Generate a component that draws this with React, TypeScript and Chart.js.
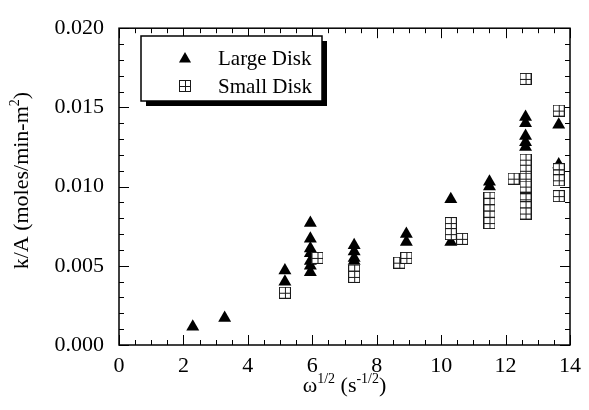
import { useEffect, useRef } from "react";
import { Chart, registerables } from "chart.js";

Chart.register(...registerables);

// Rotation-rate data: x = ω^1/2 (s^-1/2), y = k/A (moles/min-m²)
const seriesNames = ["Large Disk", "Small Disk"];

const largeX = [
  2.29, 3.28,
  5.15, 5.15,
  5.94, 5.94, 5.94, 5.94, 5.94, 5.94, 5.94,
  7.3, 7.3, 7.3, 7.3,
  8.92, 8.92,
  10.3, 10.3,
  11.5, 11.5,
  12.62, 12.62, 12.62, 12.62, 12.62,
  13.65, 13.65,
];
const largeY = [
  0.00115, 0.0017,
  0.0047, 0.004,
  0.0077, 0.0067, 0.0061, 0.0058, 0.0053, 0.005, 0.0046,
  0.0063, 0.0059, 0.0055, 0.0053,
  0.007, 0.0065,
  0.0092, 0.0065,
  0.0103, 0.01,
  0.0144, 0.014, 0.0132, 0.0128, 0.0125,
  0.0139, 0.0114,
];

const smallX = [
  5.15,
  6.16,
  7.3, 7.3,
  8.7, 8.92,
  10.3, 10.3, 10.65,
  11.5, 11.5, 11.5, 11.5, 11.5,
  12.25,
  12.62, 12.62, 12.62, 12.62, 12.62, 12.62, 12.62, 12.62,
  13.65, 13.65, 13.65, 13.65, 13.65,
];
const smallY = [
  0.0033,
  0.0055,
  0.0047, 0.0043,
  0.0052, 0.0055,
  0.0077, 0.007, 0.0067,
  0.0093, 0.0089, 0.0085, 0.0081, 0.0077,
  0.0105,
  0.0168, 0.0117, 0.011, 0.0105, 0.01, 0.0092, 0.0087, 0.0083,
  0.0148, 0.0111, 0.0107, 0.0104, 0.0094,
];

const xTicks = [0, 2, 4, 6, 8, 10, 12, 14];
const yTicks = [0, 0.005, 0.01, 0.015, 0.02];
const xMinorStep = 0.5;
const yMinorStep = 0.001;

const FONT_FAMILY = '"Liberation Serif", "Times New Roman", serif';
const FONT_SIZE = 22;
const LEGEND_FONT_SIZE = 21;

// Square with a cross inside, used as the Small Disk marker
function makeBoxMarker(size: number): HTMLCanvasElement {
  const c = document.createElement("canvas");
  c.width = size;
  c.height = size;
  const g = c.getContext("2d")!;
  g.fillStyle = "#fff";
  g.fillRect(0, 0, size, size);
  g.strokeStyle = "#1a1a1a";
  g.lineWidth = 1;
  g.strokeRect(0.5, 0.5, size - 1, size - 1);
  const m = Math.floor(size / 2) + 0.5;
  g.beginPath();
  g.moveTo(m, 0);
  g.lineTo(m, size);
  g.moveTo(0, m);
  g.lineTo(size, m);
  g.stroke();
  return c;
}

function drawTriangle(ctx: CanvasRenderingContext2D, cx: number, cy: number, r: number) {
  ctx.beginPath();
  ctx.moveTo(cx, cy - r);
  ctx.lineTo(cx + r * 0.866, cy + r * 0.5);
  ctx.lineTo(cx - r * 0.866, cy + r * 0.5);
  ctx.closePath();
  ctx.fillStyle = "#000";
  ctx.fill();
}

// Draws text pieces, some raised as superscripts, starting at x
function drawRich(
  ctx: CanvasRenderingContext2D,
  parts: { t: string; sup?: boolean }[],
  x: number,
  y: number,
  measureOnly = false
): number {
  let cx = x;
  for (const p of parts) {
    ctx.font = `${p.sup ? 14 : FONT_SIZE}px ${FONT_FAMILY}`;
    if (!measureOnly) ctx.fillText(p.t, cx, p.sup ? y - 9 : y);
    cx += ctx.measureText(p.t).width;
  }
  return cx - x;
}

const framePlugin = {
  id: "frameTicks",
  beforeDatasetsDraw(chart: any) {
    const { ctx, chartArea: a, scales } = chart;
    const xs = scales.x;
    const ys = scales.y;
    ctx.save();
    ctx.strokeStyle = "#000";
    ctx.lineWidth = 1;
    ctx.beginPath();
    const nx = Math.round((xs.max - xs.min) / xMinorStep);
    for (let i = 0; i <= nx; i++) {
      const v = xs.min + i * xMinorStep;
      const px = Math.round(xs.getPixelForValue(v)) + 0.5;
      const len = i % 4 === 0 ? 10 : 5;
      ctx.moveTo(px, a.bottom);
      ctx.lineTo(px, a.bottom - len);
      ctx.moveTo(px, a.top);
      ctx.lineTo(px, a.top + len);
    }
    const ny = Math.round((ys.max - ys.min) / yMinorStep);
    for (let i = 0; i <= ny; i++) {
      const v = ys.min + i * yMinorStep;
      const py = Math.round(ys.getPixelForValue(v)) + 0.5;
      const len = i % 5 === 0 ? 10 : 5;
      ctx.moveTo(a.left, py);
      ctx.lineTo(a.left + len, py);
      ctx.moveTo(a.right, py);
      ctx.lineTo(a.right - len, py);
    }
    ctx.stroke();
    ctx.lineWidth = 1.5;
    ctx.strokeRect(a.left, a.top, a.right - a.left, a.bottom - a.top);
    ctx.restore();
  },
  afterDraw(chart: any) {
    const { ctx, chartArea: a } = chart;
    ctx.save();
    ctx.fillStyle = "#000";
    ctx.textBaseline = "alphabetic";
    ctx.textAlign = "left";

    // x-axis title
    const xParts = [
      { t: "ω" },
      { t: "1/2", sup: true },
      { t: " (s" },
      { t: "-1/2", sup: true },
      { t: ")" },
    ];
    const xw = drawRich(ctx, xParts, 0, 0, true);
    drawRich(ctx, xParts, (a.left + a.right) / 2 - xw / 2, 392);

    // y-axis title, rotated
    const yParts = [{ t: "k/A (moles/min-m" }, { t: "2", sup: true }, { t: ")" }];
    const yw = drawRich(ctx, yParts, 0, 0, true);
    ctx.translate(28, (a.top + a.bottom) / 2 - 6);
    ctx.rotate(-Math.PI / 2);
    drawRich(ctx, yParts, -yw / 2, 0);
    ctx.setTransform(1, 0, 0, 1, 0, 0);

    // legend box with drop shadow
    const bx = 141, by = 36, bw = 181, bh = 65;
    ctx.fillStyle = "#000";
    ctx.fillRect(bx + 5, by + 5, bw, bh);
    ctx.fillStyle = "#fff";
    ctx.fillRect(bx, by, bw, bh);
    ctx.strokeStyle = "#000";
    ctx.lineWidth = 1.5;
    ctx.strokeRect(bx, by, bw, bh);

    drawTriangle(ctx, 185, 59, 7);
    const box = chart.data.datasets[1].pointStyle as HTMLCanvasElement;
    ctx.drawImage(box, 185 - box.width / 2, 86 - box.height / 2);

    ctx.fillStyle = "#000";
    ctx.font = `${LEGEND_FONT_SIZE}px ${FONT_FAMILY}`;
    ctx.fillText(seriesNames[0], 218, 65);
    ctx.fillText(seriesNames[1], 218, 93);
    ctx.restore();
  },
};

export default function App() {
  const ref = useRef<HTMLCanvasElement>(null);

  useEffect(() => {
    const prevMargin = document.body.style.margin;
    document.body.style.margin = "0";
    const canvas = ref.current!;
    const boxMarker = makeBoxMarker(12);
    const tickFont = { family: FONT_FAMILY, size: FONT_SIZE };

    const chart = new Chart(canvas, {
      type: "scatter",
      data: {
        datasets: [
          {
            label: seriesNames[0],
            data: largeX.map((x, i) => ({ x, y: largeY[i] })),
            pointStyle: "triangle",
            pointRadius: 7.5,
            backgroundColor: "#000",
            borderColor: "#000",
            borderWidth: 0,
            order: 1,
          },
          {
            label: seriesNames[1],
            data: smallX.map((x, i) => ({ x, y: smallY[i] })),
            pointStyle: boxMarker as any,
            pointRadius: 6,
            order: 0,
          },
        ],
      },
      options: {
        animation: false,
        responsive: false,
        events: [],
        layout: { padding: { left: 8, top: 16, right: 17, bottom: 0 } },
        plugins: { legend: { display: false }, tooltip: { enabled: false } },
        scales: {
          x: {
            type: "linear",
            min: 0,
            max: 14,
            grid: { display: false, drawTicks: false },
            border: { display: false },
            afterBuildTicks: (s: any) => {
              s.ticks = xTicks.map((v) => ({ value: v }));
            },
            afterFit: (s: any) => {
              s.height = 65;
            },
            ticks: {
              font: tickFont,
              color: "#000",
              padding: 8,
              maxRotation: 0,
              callback: (v: any) => String(v),
            },
          },
          y: {
            type: "linear",
            min: 0,
            max: 0.02,
            grid: { display: false, drawTicks: false },
            border: { display: false },
            afterBuildTicks: (s: any) => {
              s.ticks = yTicks.map((v) => ({ value: v }));
            },
            afterFit: (s: any) => {
              s.width = 111;
            },
            ticks: {
              font: tickFont,
              color: "#000",
              padding: 15,
              callback: (v: any) => Number(v).toFixed(3),
            },
          },
        },
      },
      plugins: [framePlugin],
    });

    return () => {
      chart.destroy();
      document.body.style.margin = prevMargin;
    };
  }, []);

  return (
    <div style={{ position: "fixed", left: 0, top: 0, width: 589, height: 410, background: "#fff" }}>
      <canvas ref={ref} width={589} height={410} style={{ display: "block" }} />
    </div>
  );
}
